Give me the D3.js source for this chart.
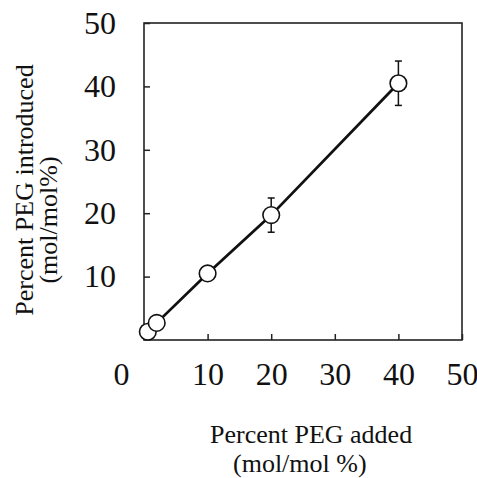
<!DOCTYPE html>
<html>
<head>
<meta charset="utf-8">
<script src="https://cdn.jsdelivr.net/npm/d3@7"></script>
<style>
	body { margin: 0; background: #fff; }
	text { font-family: "Liberation Serif", "Times New Roman", serif; fill: #111; }
</style>
</head>
<body>
<div id="chart"></div>
<script>
// data
var pegAdded = [0.6, 2, 10, 20, 40];
var pegIntroduced = [1.3, 2.7, 10.5, 19.7, 40.5];
var errorBars = [0, 0, 0, 2.7, 3.5];
var xTicks = [0, 10, 20, 30, 40, 50];
var yTicks = [10, 20, 30, 40, 50];

var width = 477, height = 478;
var margin = { left: 144, right: 15, top: 23, bottom: 138 };

var svg = d3.select("#chart").append("svg")
	.attr("width", width)
	.attr("height", height);

var x = d3.scaleLinear().domain([0, 50]).range([margin.left, width - margin.right]);
var y = d3.scaleLinear().domain([0, 50]).range([height - margin.bottom, margin.top]);

var points = pegAdded.map(function(d, i) {
	return { x: d, y: pegIntroduced[i], err: errorBars[i] };
});

// y axis, ticks point inward
var yAxis = svg.append("g")
	.attr("transform", "translate(" + x(0) + ",0)")
	.call(d3.axisLeft(y).tickValues(yTicks).tickSizeInner(-6).tickSizeOuter(0).tickPadding(28));

// x axis
var xAxis = svg.append("g")
	.attr("transform", "translate(0," + y(0) + ")")
	.call(d3.axisBottom(x).tickValues(xTicks).tickSizeInner(-6).tickSizeOuter(0).tickPadding(22));

[xAxis, yAxis].forEach(function(g) {
	g.select(".domain").remove();
	g.selectAll(".tick line").attr("stroke", "#222").attr("stroke-width", 1.5);
	g.selectAll(".tick text").attr("font-size", 32).attr("fill", "#111")
		.style("font-family", "'Liberation Serif', 'Times New Roman', serif");
});

// origin label sits left of the corner
xAxis.selectAll(".tick text").filter(function(d) { return d === 0; }).attr("dx", -23);

// frame
svg.append("rect")
	.attr("x", x(0))
	.attr("y", y(50))
	.attr("width", x(50) - x(0))
	.attr("height", y(0) - y(50))
	.attr("fill", "none")
	.attr("stroke", "#222")
	.attr("stroke-width", 1.6);

// connecting line
var line = d3.line()
	.x(function(d) { return x(d.x); })
	.y(function(d) { return y(d.y); });

svg.append("path")
	.datum(points)
	.attr("d", line)
	.attr("fill", "none")
	.attr("stroke", "#111")
	.attr("stroke-width", 2.8);

// error bars
var bars = svg.selectAll(".err")
	.data(points.filter(function(d) { return d.err > 0; }))
	.enter()
	.append("g")
	.attr("class", "err")
	.attr("stroke", "#111")
	.attr("stroke-width", 1.5);

bars.append("line")
	.attr("x1", function(d) { return x(d.x); })
	.attr("x2", function(d) { return x(d.x); })
	.attr("y1", function(d) { return y(d.y - d.err); })
	.attr("y2", function(d) { return y(d.y + d.err); });

[-1, 1].forEach(function(s) {
	bars.append("line")
		.attr("x1", function(d) { return x(d.x) - 3.5; })
		.attr("x2", function(d) { return x(d.x) + 3.5; })
		.attr("y1", function(d) { return y(d.y + s * d.err); })
		.attr("y2", function(d) { return y(d.y + s * d.err); });
});

// open circles
svg.selectAll(".pt")
	.data(points)
	.enter()
	.append("circle")
	.attr("class", "pt")
	.attr("cx", function(d) { return x(d.x); })
	.attr("cy", function(d) { return y(d.y); })
	.attr("r", 8.3)
	.attr("fill", "#fff")
	.attr("stroke", "#111")
	.attr("stroke-width", 1.6);

// y title, two rotated lines
svg.append("text")
	.attr("transform", "translate(33,190) rotate(-90)")
	.attr("text-anchor", "middle")
	.attr("font-size", 26)
	.text("Percent PEG introduced");

svg.append("text")
	.attr("transform", "translate(57,220) rotate(-90)")
	.attr("text-anchor", "middle")
	.attr("font-size", 26)
	.text("(mol/mol%)");

// x title
svg.append("text")
	.attr("x", 210)
	.attr("y", 443)
	.attr("font-size", 26)
	.text("Percent PEG added");

svg.append("text")
	.attr("x", 233)
	.attr("y", 472)
	.attr("font-size", 26)
	.text("(mol/mol %)");
</script>
</body>
</html>
